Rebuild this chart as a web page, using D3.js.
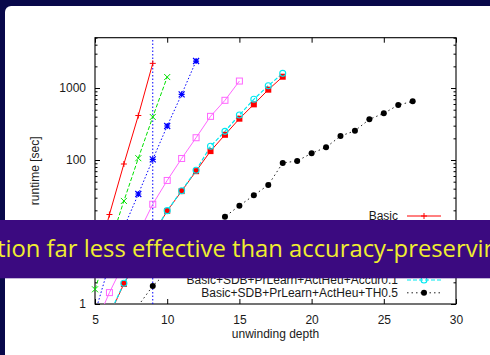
<!DOCTYPE html>
<html>
<head>
<meta charset="utf-8">
<script src="https://cdn.jsdelivr.net/npm/d3@7"></script>
<style>
  html, body { margin: 0; padding: 0; background: #08084a; overflow: hidden; }
  svg { display: block; }
</style>
</head>
<body>
<svg id="chart" width="490" height="355"></svg>
<script>
// Runtime (seconds) against unwinding depth for each configuration.
const basicDepth = [5, 6, 7, 8, 9];
const basicRuntime = [3.2, 17.5, 88, 415, 2200];

const sdbDepth = [5, 6, 7, 8, 9, 10];
const sdbRuntime = [1.6, 6.5, 27, 106, 396, 1420];

const prLearnDepth = [5, 6, 7, 8, 9, 10, 11, 12];
const prLearnRuntime = [0.75, 3.6, 11.5, 33.7, 102, 297, 817, 2370];

const actHeuDepth = [5, 6, 7, 8, 9, 10, 11, 12, 13, 14, 15];
const actHeuRuntime = [0.5, 1.44, 3.7, 9.5, 24.3, 52, 105, 204, 404, 675, 1250];

const fullDepth = [6, 7, 8, 9, 10, 11, 12, 13, 14, 15, 16, 17, 18];
const fullRuntime = [0.7, 1.9, 4.2, 9.1, 19.6, 37, 70, 133, 224, 375, 593, 948, 1436];

const accurDepth = [6, 7, 8, 9, 10, 11, 12, 13, 14, 15, 16, 17, 18];
const accurRuntime = [0.72, 1.94, 4.3, 9.2, 19.8, 37.5, 72, 155, 250, 422, 697, 1077, 1600];

const thDepth = [8, 9, 10, 11, 12, 13, 14, 15, 16, 17, 18, 19, 20, 21, 22, 23, 24, 25, 26, 27];
const thRuntime = [0.95, 1.78, 2.8, 4.3, 6.7, 10.5, 16.3, 23.2, 32.3, 45, 91, 97, 124, 150, 215, 255, 367, 445, 580, 653];

// Vertical dotted guide at depth 9.
const guideDepth = [9, 9];
const guideRuntime = [1, 5000];

const seriesLabels = [
  "Basic",
  "Basic+SDB",
  "Basic+SDB+PrLearn",
  "Basic+SDB+PrLearn+ActHeu",
  "Basic+SDB+PrLearn+ActHeu+SAT",
  "Basic+SDB+PrLearn+ActHeu+Accur0.1",
  "Basic+SDB+PrLearn+ActHeu+TH0.5"
];

const xTicks = [5, 10, 15, 20, 25, 30];
const yTicks = [1, 10, 100, 1000];
const xDomain = [5, 30];
const yDomain = [1, 5000];

const bannerText = "tion far less effective than accuracy-preserving";

const zip = (xs, ys) => xs.map((d, i) => ({ depth: d, runtime: ys[i] }));

const series = [
  { label: seriesLabels[0], data: zip(basicDepth, basicRuntime), color: "#ff0000", dash: null, marker: "plus", lw: 1 },
  { label: seriesLabels[1], data: zip(sdbDepth, sdbRuntime), color: "#00e000", dash: "4,2", marker: "cross", lw: 1 },
  { label: seriesLabels[2], data: zip(prLearnDepth, prLearnRuntime), color: "#0000ff", dash: "1.5,2", marker: "star", lw: 1 },
  { label: seriesLabels[3], data: zip(actHeuDepth, actHeuRuntime), color: "#ff66ff", dash: null, marker: "square", lw: 1 },
  { label: seriesLabels[4], data: zip(fullDepth, fullRuntime), color: "#ff0000", dash: null, marker: "fsquare", lw: 1 },
  { label: seriesLabels[5], data: zip(accurDepth, accurRuntime), color: "#00e8f0", dash: "4,2", marker: "circle", lw: 1.2 },
  { label: seriesLabels[6], data: zip(thDepth, thRuntime), color: "#222222", dash: "1.5,3", marker: "fcircle", lw: 1 }
];

const svg = d3.select("#chart");
const W = 490, H = 355;

// slide panel
svg.append("rect").attr("width", W).attr("height", H).attr("fill", "#08084a");
svg.append("rect").attr("x", 5).attr("y", 6).attr("width", W + 20).attr("height", H + 20)
  .attr("rx", 6).attr("fill", "#ffffff");

const plot = { left: 95, right: 456, top: 37.7, bottom: 304 };

const x = d3.scaleLinear().domain(xDomain).range([plot.left, plot.right]);
const y = d3.scaleLog().domain(yDomain).range([plot.bottom, plot.top]);

svg.append("clipPath").attr("id", "plotClip")
  .append("rect").attr("x", plot.left).attr("y", plot.top)
  .attr("width", plot.right - plot.left).attr("height", plot.bottom - plot.top);

const fontFam = "'Liberation Sans', Arial, Helvetica, sans-serif";
const textColor = "#1a1a1a";

// axes: ticks on all four sides, pointing inward
const major = 5, minor = 2.5;
const yMinor = [];
for (let e = 0; e < 4; e++) {
  for (let k = 2; k <= 9; k++) {
    const v = k * Math.pow(10, e);
    if (v <= yDomain[1]) yMinor.push(v);
  }
}

const axisLeft = d3.axisLeft(y).tickValues(yTicks).tickFormat(d3.format("d")).tickSize(-major).tickPadding(9);
const axisRight = d3.axisRight(y).tickValues(yTicks).tickFormat("").tickSize(-major);
const axisLeftMinor = d3.axisLeft(y).tickValues(yMinor).tickFormat("").tickSize(-minor);
const axisRightMinor = d3.axisRight(y).tickValues(yMinor).tickFormat("").tickSize(-minor);
const axisBottom = d3.axisBottom(x).tickValues(xTicks).tickFormat(d3.format("d")).tickSize(-major).tickPadding(11);
const axisTop = d3.axisTop(x).tickValues(xTicks).tickFormat("").tickSize(-major);

function styleAxis(g) {
  g.select(".domain").remove();
  g.selectAll(".tick line").attr("stroke", "#000").attr("stroke-width", 1);
  g.selectAll(".tick text").attr("fill", textColor).style("font-family", fontFam).style("font-size", "12px");
}

svg.append("g").attr("transform", `translate(${plot.left},0)`).call(axisLeft).call(styleAxis);
svg.append("g").attr("transform", `translate(${plot.left},0)`).call(axisLeftMinor).call(styleAxis);
svg.append("g").attr("transform", `translate(${plot.right},0)`).call(axisRight).call(styleAxis);
svg.append("g").attr("transform", `translate(${plot.right},0)`).call(axisRightMinor).call(styleAxis);
svg.append("g").attr("transform", `translate(0,${plot.bottom})`).call(axisBottom).call(styleAxis);
svg.append("g").attr("transform", `translate(0,${plot.top})`).call(axisTop).call(styleAxis);

// frame
svg.append("rect")
  .attr("x", plot.left).attr("y", plot.top)
  .attr("width", plot.right - plot.left).attr("height", plot.bottom - plot.top)
  .attr("fill", "none").attr("stroke", "#000").attr("stroke-width", 1.1);

// axis titles
svg.append("text")
  .attr("transform", `translate(39,${(plot.top + plot.bottom) / 2}) rotate(-90)`)
  .attr("text-anchor", "middle")
  .attr("fill", textColor).style("font-family", fontFam).style("font-size", "12px")
  .text("runtime [sec]");
svg.append("text")
  .attr("x", (plot.left + plot.right) / 2).attr("y", 338)
  .attr("text-anchor", "middle")
  .attr("fill", textColor).style("font-family", fontFam).style("font-size", "12px")
  .text("unwinding depth");

// markers
function drawMarker(g, type, cx, cy, color) {
  const s = 3;
  switch (type) {
    case "plus":
      g.append("path").attr("d", `M${cx - s},${cy}H${cx + s}M${cx},${cy - s}V${cy + s}`)
        .attr("stroke", color).attr("stroke-width", 1).attr("fill", "none");
      break;
    case "cross":
      g.append("path").attr("d", `M${cx - s},${cy - s}L${cx + s},${cy + s}M${cx - s},${cy + s}L${cx + s},${cy - s}`)
        .attr("stroke", color).attr("stroke-width", 1).attr("fill", "none");
      break;
    case "star":
      g.append("path").attr("d", `M${cx - s},${cy}H${cx + s}M${cx},${cy - s}V${cy + s}M${cx - s},${cy - s}L${cx + s},${cy + s}M${cx - s},${cy + s}L${cx + s},${cy - s}`)
        .attr("stroke", color).attr("stroke-width", 1.2).attr("fill", "none");
      break;
    case "square":
      g.append("rect").attr("x", cx - s).attr("y", cy - s).attr("width", 2 * s).attr("height", 2 * s)
        .attr("stroke", color).attr("stroke-width", 1).attr("fill", "none");
      break;
    case "fsquare":
      g.append("rect").attr("x", cx - s).attr("y", cy - s).attr("width", 2 * s).attr("height", 2 * s)
        .attr("fill", color);
      break;
    case "circle":
      g.append("circle").attr("cx", cx).attr("cy", cy).attr("r", s)
        .attr("stroke", color).attr("stroke-width", 1.1).attr("fill", "none");
      break;
    case "fcircle":
      g.append("circle").attr("cx", cx).attr("cy", cy).attr("r", s).attr("fill", "#000");
      break;
  }
}

const plotG = svg.append("g").attr("clip-path", "url(#plotClip)");
const line = d3.line().x(d => x(d.depth)).y(d => y(d.runtime));

// vertical guide
plotG.append("path")
  .datum(zip(guideDepth, guideRuntime))
  .attr("d", line)
  .attr("fill", "none").attr("stroke", "#0000ff").attr("stroke-width", 1)
  .attr("stroke-dasharray", "1.5,2");

series.forEach(s => {
  plotG.append("path")
    .datum(s.data)
    .attr("d", line)
    .attr("fill", "none")
    .attr("stroke", s.color)
    .attr("stroke-width", s.lw)
    .attr("stroke-dasharray", s.dash);
});
series.forEach(s => {
  const g = svg.append("g");
  s.data.filter(d => d.runtime >= yDomain[0] && d.runtime <= yDomain[1])
    .forEach(d => drawMarker(g, s.marker, x(d.depth), y(d.runtime), s.color));
});

// legend, bottom right inside the frame
const legendTextRight = 398;
const legendLine = [407, 441];
const legendRows = d3.scaleLinear().domain([0, series.length - 1]).range([216, 292.8]);
series.forEach((s, i) => {
  const ly = legendRows(i);
  svg.append("text")
    .attr("x", legendTextRight).attr("y", ly + 4.2)
    .attr("text-anchor", "end")
    .attr("fill", textColor).style("font-family", fontFam).style("font-size", "12px")
    .text(s.label);
  svg.append("line")
    .attr("x1", legendLine[0]).attr("x2", legendLine[1]).attr("y1", ly).attr("y2", ly)
    .attr("stroke", s.color).attr("stroke-width", s.lw).attr("stroke-dasharray", s.dash);
  drawMarker(svg.append("g"), s.marker, (legendLine[0] + legendLine[1]) / 2, ly, s.color);
});

// overlay banner across the slide
svg.append("rect").attr("x", 0).attr("y", 220).attr("width", W).attr("height", 58.3).attr("fill", "#3b0a80");
svg.append("text")
  .attr("x", -3).attr("y", 256.5)
  .attr("fill", "#f0ee30")
  .style("font-family", "'Open Sans', 'Noto Sans', sans-serif")
  .style("font-size", "23.8px")
  .text(bannerText);
</script>
</body>
</html>
